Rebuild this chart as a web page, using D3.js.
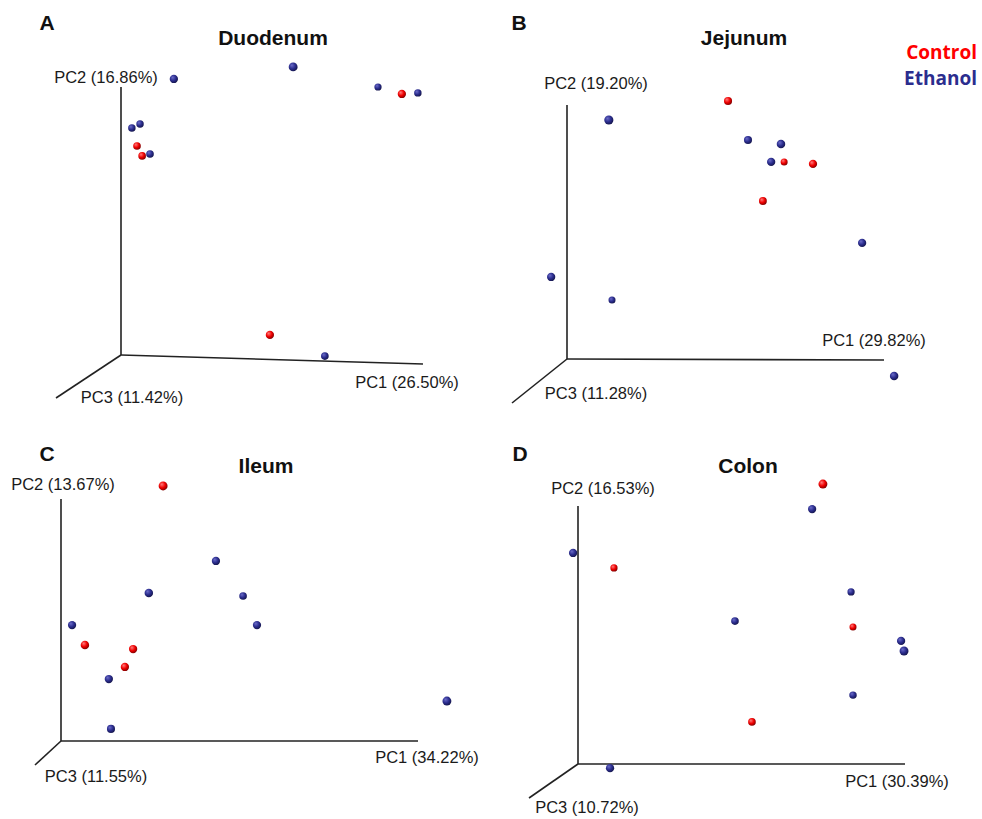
<!DOCTYPE html>
<html>
<head>
<meta charset="utf-8">
<script src="https://cdn.jsdelivr.net/npm/d3@7"></script>
<style>
  html, body { margin: 0; padding: 0; background: #fff; }
  svg { display: block; }
  .axis-label { font-family: "Liberation Sans", Arial, sans-serif; font-size: 16.5px; fill: #1a1a1a; }
  .title { font-family: "Liberation Sans", Arial, sans-serif; font-size: 21px; font-weight: bold; fill: #111; }
  .letter { font-family: "Liberation Sans", Arial, sans-serif; font-size: 21px; font-weight: bold; fill: #111; }
  .legend { font-family: "Open Sans", "Noto Sans", sans-serif; font-size: 19px; font-weight: bold; }
</style>
</head>
<body>
<script>
// PCoA coordinates (projected PC1 / PC2, scaled 0-100 along each drawn axis) and depth along PC3
const groups = ["Control", "Ethanol"];

const duodenumGroup = ["Ethanol","Ethanol","Ethanol","Control","Ethanol","Ethanol","Ethanol","Control","Control","Ethanol","Control","Ethanol"];
const duodenumPC1 = [17.5, 57.0, 85.1, 93.0, 98.3, 3.6, 6.3, 5.3, 7.0, 9.6, 49.3, 67.5];
const duodenumPC2 = [103.0, 107.5, 100.0, 97.4, 97.8, 84.7, 86.2, 78.0, 74.3, 75.0, 7.5, -0.4];
const duodenumPC3 = [0.45, 0.6, 0.2, 0.45, 0.25, 0.25, 0.25, 0.3, 0.3, 0.3, 0.45, 0.3];

const jejunumGroup = ["Control","Ethanol","Ethanol","Ethanol","Ethanol","Control","Control","Control","Ethanol","Ethanol","Ethanol","Ethanol"];
const jejunumPC1 = [50.8, 13.2, 57.1, 67.5, 64.4, 68.5, 77.6, 61.8, 93.1, -5.0, 14.2, 103.2];
const jejunumPC2 = [101.6, 94.1, 86.2, 84.6, 77.6, 77.6, 76.8, 62.2, 45.7, 32.3, 23.2, -6.7];
const jejunumPC3 = [0.4, 0.65, 0.4, 0.5, 0.45, 0.15, 0.45, 0.35, 0.45, 0.45, 0.15, 0.5];

const ileumGroup = ["Control","Ethanol","Ethanol","Ethanol","Ethanol","Ethanol","Control","Control","Control","Ethanol","Ethanol","Ethanol"];
const ileumPC1 = [28.6, 43.4, 24.6, 51.0, 3.1, 54.9, 6.7, 20.2, 17.9, 13.4, 108.1, 14.0];
const ileumPC2 = [105.4, 74.4, 61.2, 59.9, 47.9, 47.9, 39.7, 38.0, 30.6, 25.6, 16.5, 5.0];
const ileumPC3 = [0.6, 0.45, 0.5, 0.3, 0.45, 0.45, 0.5, 0.45, 0.45, 0.45, 0.6, 0.4];

const colonGroup = ["Control","Ethanol","Ethanol","Control","Ethanol","Ethanol","Control","Ethanol","Ethanol","Ethanol","Control","Ethanol"];
const colonPC1 = [74.9, 71.6, -1.5, 11.0, 83.5, 48.0, 84.1, 98.8, 99.7, 84.1, 53.2, 9.8];
const colonPC2 = [108.5, 98.8, 81.8, 76.0, 66.7, 55.4, 53.1, 47.7, 43.8, 26.7, 16.3, -1.6];
const colonPC3 = [0.6, 0.45, 0.45, 0.2, 0.2, 0.3, 0.15, 0.45, 0.6, 0.25, 0.3, 0.45];

const panelTitles = ["Duodenum", "Jejunum", "Ileum", "Colon"];
const panelLetters = ["A", "B", "C", "D"];
const pc1Labels = ["PC1 (26.50%)", "PC1 (29.82%)", "PC1 (34.22%)", "PC1 (30.39%)"];
const pc2Labels = ["PC2 (16.86%)", "PC2 (19.20%)", "PC2 (13.67%)", "PC2 (16.53%)"];
const pc3Labels = ["PC3 (11.42%)", "PC3 (11.28%)", "PC3 (11.55%)", "PC3 (10.72%)"];

const panelData = [
  { group: duodenumGroup, pc1: duodenumPC1, pc2: duodenumPC2, pc3: duodenumPC3 },
  { group: jejunumGroup,  pc1: jejunumPC1,  pc2: jejunumPC2,  pc3: jejunumPC3 },
  { group: ileumGroup,    pc1: ileumPC1,    pc2: ileumPC2,    pc3: ileumPC3 },
  { group: colonGroup,    pc1: colonPC1,    pc2: colonPC2,    pc3: colonPC3 }
];

// Layout of each panel's perspective axes (pixels)
const layout = [
  { origin: [121, 355], pc1End: [423, 364], pc2Top: 87,  pc3End: [56, 398],
    letter: [47, 30], title: [273, 45], l2: [106, 83], l1: [407, 388], l3: [132, 403] },
  { origin: [567, 359], pc1End: [884, 360], pc2Top: 105, pc3End: [512, 403],
    letter: [519, 30], title: [744, 45], l2: [596, 89], l1: [874, 346], l3: [596, 399] },
  { origin: [61, 741],  pc1End: [418, 741], pc2Top: 499, pc3End: [35, 765],
    letter: [47, 461], title: [266, 473], l2: [63, 490], l1: [427, 763], l3: [96, 782] },
  { origin: [578, 764], pc1End: [905, 764], pc2Top: 506, pc3End: [529, 798],
    letter: [520, 461], title: [748, 473], l2: [603, 494], l1: [897, 787], l3: [587, 813] }
];

const W = 982, H = 819;
const svg = d3.select("body").append("svg").attr("width", W).attr("height", H);

// Shaded sphere fills
const colors = { Control: ["#ff7a7a", "#f00000", "#7d0000"], Ethanol: ["#6b6bc8", "#2b2d8e", "#14154a"] };
const defs = svg.append("defs");
groups.forEach(g => {
  const grad = defs.append("radialGradient").attr("id", "sphere-" + g)
    .attr("cx", "40%").attr("cy", "38%").attr("r", "65%").attr("fx", "35%").attr("fy", "32%");
  grad.append("stop").attr("offset", "0%").attr("stop-color", colors[g][0]);
  grad.append("stop").attr("offset", "55%").attr("stop-color", colors[g][1]);
  grad.append("stop").attr("offset", "100%").attr("stop-color", colors[g][2]);
});

const radius = d3.scaleLinear().domain([0, 1]).range([3.2, 5.3]);

panelData.forEach((pd, i) => {
  const L = layout[i];
  const g = svg.append("g");
  const x = d3.scaleLinear().domain([0, 100]).range([L.origin[0], L.pc1End[0]]);
  const y = d3.scaleLinear().domain([0, 100]).range([L.origin[1], L.pc2Top]);
  const slope = (L.pc1End[1] - L.origin[1]) / (L.pc1End[0] - L.origin[0]);

  // axes
  const axisStyle = sel => sel.attr("stroke", "#222").attr("stroke-width", 1.6).attr("fill", "none");
  g.append("line").attr("x1", x(0)).attr("y1", y(0)).attr("x2", x(0)).attr("y2", y(100)).call(axisStyle);
  g.append("line").attr("x1", x(0)).attr("y1", y(0)).attr("x2", x(100)).attr("y2", y(0) + slope * (x(100) - x(0))).call(axisStyle);
  g.append("line").attr("x1", x(0)).attr("y1", y(0)).attr("x2", L.pc3End[0]).attr("y2", L.pc3End[1]).call(axisStyle);

  // labels
  g.append("text").attr("class", "letter").attr("x", L.letter[0]).attr("y", L.letter[1]).attr("text-anchor", "middle").text(panelLetters[i]);
  g.append("text").attr("class", "title").attr("x", L.title[0]).attr("y", L.title[1]).attr("text-anchor", "middle").text(panelTitles[i]);
  g.append("text").attr("class", "axis-label").attr("x", L.l2[0]).attr("y", L.l2[1]).attr("text-anchor", "middle").text(pc2Labels[i]);
  g.append("text").attr("class", "axis-label").attr("x", L.l1[0]).attr("y", L.l1[1]).attr("text-anchor", "middle").text(pc1Labels[i]);
  g.append("text").attr("class", "axis-label").attr("x", L.l3[0]).attr("y", L.l3[1]).attr("text-anchor", "middle").text(pc3Labels[i]);

  // samples, far ones first
  const pts = pd.pc1.map((v, k) => ({ pc1: v, pc2: pd.pc2[k], pc3: pd.pc3[k], group: pd.group[k] }))
    .sort((a, b) => a.pc3 - b.pc3);
  g.selectAll("circle.pt").data(pts).join("circle")
    .attr("class", "pt")
    .attr("cx", d => x(d.pc1))
    .attr("cy", d => y(d.pc2))
    .attr("r", d => radius(d.pc3))
    .attr("fill", d => "url(#sphere-" + d.group + ")");
});

// legend
const legendColors = { Control: "#ff0000", Ethanol: "#2b2d8e" };
svg.selectAll("text.legend").data(groups).join("text")
  .attr("class", "legend")
  .attr("x", 977)
  .attr("y", (d, k) => 59 + k * 26)
  .attr("text-anchor", "end")
  .attr("fill", d => legendColors[d])
  .text(d => d);
</script>
</body>
</html>
